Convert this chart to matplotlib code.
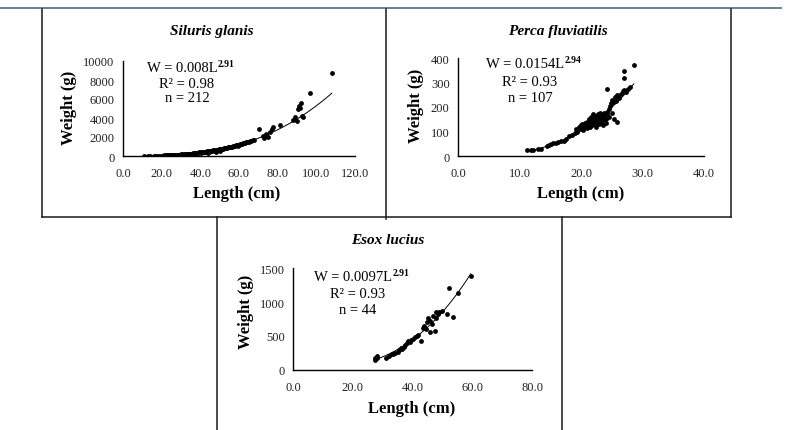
import numpy as np
import matplotlib
matplotlib.use("Agg")
import matplotlib.pyplot as plt
from matplotlib.lines import Line2D

plt.rcParams["font.family"] = ["Liberation Serif", "DejaVu Serif"]

# ---------------- data ----------------
silurus_len = [11, 13, 14, 16, 17, 18, 19, 20, 21, 22, 22.5, 23, 24, 24.5, 25, 26, 26.5, 27, 28, 28.5,
               29, 30, 30.5, 31, 32, 32.5, 33, 33.5, 34, 34.5, 35, 35.5, 36, 36.5, 37, 37.5, 38, 38.5,
               39, 39.5, 40, 40.5, 41, 41.5, 42, 42.5, 43, 43.5, 44, 44, 44.5, 45, 45.5, 46, 46.5, 47,
               47.5, 48, 48, 48.5, 49, 49.5, 50, 50, 50.5, 51, 51.5, 52, 52.5, 53, 53.5, 54, 54.5, 55,
               55.5, 56, 56.5, 57, 57.5, 58, 58.5, 59, 59.5, 60, 60.5, 61, 61.5, 62, 62.5, 63, 63.5,
               64, 65, 65.5, 66, 67, 68, 70.5, 72.5, 73, 74, 75.2, 76, 77, 77.8, 81, 88, 89, 90, 90.5,
               91, 91.5, 92, 92.4, 93, 96.7, 108]
silurus_wt = [10, 15, 20, 25, 30, 40, 45, 50, 60, 70, 65, 80, 90, 85, 100, 110, 95, 130, 140, 120,
              150, 170, 150, 180, 200, 190, 210, 240, 230, 250, 260, 240, 280, 300, 290, 320, 330, 300,
              350, 370, 380, 360, 400, 420, 430, 410, 460, 480, 500, 350, 470, 530, 560, 540, 580, 600,
              570, 640, 450, 660, 620, 700, 720, 500, 690, 760, 740, 790, 820, 800, 860, 880, 900, 940,
              910, 980, 1000, 1050, 1030, 1080, 1120, 1150, 1100, 1200, 1250, 1300, 1260, 1350, 1400,
              1380, 1450, 1500, 1480, 1550, 1600, 1650, 1700, 2800, 2150, 1900, 2300, 1970, 2500,
              2850, 3100, 3250, 3800, 4070, 3700, 4900, 5300, 5100, 5600, 4250, 4100, 6650, 8700]

perca_len = [11.3, 11.8, 12.2, 13, 13.5, 14.5, 14.8, 15.2, 15.5, 16, 16.3, 16.8, 17.2, 17.5, 18, 18.5,
             19, 19.2, 19.4, 19.6, 19.8, 20, 20, 20.2, 20.4, 20.5, 20.6, 20.8, 21, 21, 21.2, 21.3,
             21.4, 21.5, 21.6, 21.7, 21.8, 21.9, 22, 22, 22.1, 22.2, 22.3, 22.4, 22.5, 22.5, 22.6,
             22.7, 22.8, 22.9, 23, 23, 23.1, 23.2, 23.3, 23.4, 23.5, 23.6, 23.7, 23.8, 24, 24, 24.2,
             24.3, 24.5, 24.5, 24.7, 24.8, 25, 25, 25.2, 25.3, 25.5, 25.7, 25.8, 26, 26.2, 26.5, 26.8,
             27, 27, 27, 27.3, 27.6, 28, 28.6, 25.8, 24.2]
perca_wt = [25, 25, 24, 27, 30, 40, 45, 48, 52, 55, 58, 60, 62, 70, 80, 85,
            95, 110, 100, 120, 115, 125, 110, 130, 105, 120, 135, 125, 140, 115, 130, 150,
            120, 145, 135, 160, 125, 150, 140, 170, 130, 155, 145, 165, 120, 150, 135,
            170, 145, 160, 130, 155, 175, 140, 150, 165, 125, 145, 160, 175, 150, 135, 170,
            273, 190, 160, 205, 215, 230, 175, 220, 150, 240, 225, 250, 245, 235, 255, 265,
            270, 318, 346, 260, 275, 280, 373, 140, 180]

esox_len = [27.3, 27.5, 28, 28.2, 31, 32, 33, 33.5, 34, 35, 35.5, 36, 36.5, 37, 37.5, 38, 38.5, 39,
            39.5, 40, 41, 41.5, 42, 43, 43.5, 44, 44.5, 45, 45.2, 45.8, 46, 46.5, 47, 47.5, 47.8, 48,
            48.5, 49, 50, 51.4, 52.3, 53.6, 55.3, 59.5]
esox_wt = [150, 180, 210, 170, 180, 200, 230, 240, 250, 270, 300, 320, 310, 340, 370, 400, 420, 410,
           440, 450, 480, 500, 520, 431, 620, 640, 600, 700, 760, 554, 720, 680, 800, 578, 760, 848,
           820, 860, 870, 823, 1206, 775, 1132, 1378]

W, H = 786, 431
fig = plt.figure(figsize=(W / 100, H / 100), dpi=100)
fig.patch.set_facecolor("white")
fig.canvas.draw()


def fx(x):
    return x / W


def fy(y):
    return 1 - y / H


def panel(rect, L, Wt, a, b, xmax, xstep, ymax, ystep, title, eq, sup, r2, n, pos):
    ax = fig.add_axes(rect)
    ax.scatter(L, Wt, s=12, color="black", linewidths=0, zorder=3)
    xs = np.linspace(min(L), max(L), 200)
    ax.plot(xs, a * xs ** b, color="black", lw=0.7, zorder=2)
    ax.set_xlim(0, xmax)
    ax.set_ylim(0, ymax)
    ax.set_xticks(np.arange(0, xmax + 0.1, xstep))
    ax.set_xticklabels([f"{v:.1f}" for v in np.arange(0, xmax + 0.1, xstep)])
    ax.set_yticks(np.arange(0, ymax + 1, ystep))
    ax.set_yticklabels([f"{int(v)}" for v in np.arange(0, ymax + 1, ystep)])
    for s in ("top", "right"):
        ax.spines[s].set_visible(False)
    for s in ("left", "bottom"):
        ax.spines[s].set_linewidth(1.0)
    ax.tick_params(length=0, labelsize=9, colors="#222222")
    ax.tick_params(axis="x", pad=8)
    ax.tick_params(axis="y", pad=6)
    ax.patch.set_alpha(0)

    tx, ty, yl_x, yl_y, xl_x, xl_y, ex, ey, dy = pos
    fig.text(fx(tx), fy(ty), title, ha="center", va="center", fontsize=11,
             weight="bold", style="italic")
    fig.text(fx(yl_x), fy(yl_y), "Weight (g)", ha="center", va="center", fontsize=12,
             weight="bold", rotation=90)
    fig.text(fx(xl_x), fy(xl_y), "Length (cm)", ha="center", va="center", fontsize=12,
             weight="bold")
    # equation: main part plus a small bold exponent
    main = fig.text(fx(ex - 5), fy(ey), eq, ha="center", va="center", fontsize=10.5)
    ax.annotate(sup, xy=(1, 1), xycoords=main, xytext=(0.5, 1.5), textcoords="offset points",
                ha="left", va="top", fontsize=7, weight="bold", annotation_clip=False)
    fig.text(fx(ex), fy(ey + dy), r2, ha="center", va="center", fontsize=10.5)
    fig.text(fx(ex), fy(ey + 2 * dy), n, ha="center", va="center", fontsize=10.5)


panel([fx(123), fy(157), (355 - 123) / W, (157 - 62) / H], silurus_len, silurus_wt,
      0.008, 2.91, 120, 20, 10000, 2000, "Siluris glanis",
      "W = 0.008L", "2.91", "R² = 0.98", "n = 212",
      (212, 32, 69, 108, 237, 194, 187, 69, 15))
panel([fx(458), fy(157), (704 - 458) / W, (157 - 59) / H], perca_len, perca_wt,
      0.0154, 2.94, 40, 10, 400, 100, "Perca fluviatilis",
      "W = 0.0154L", "2.94", "R² = 0.93", "n = 107",
      (558, 32, 416, 106, 581, 194, 530, 65, 17))
panel([fx(293), fy(371), (532 - 293) / W, (371 - 269) / H], esox_len, esox_wt,
      0.0097, 2.91, 80, 20, 1500, 500, "Esox lucius",
      "W = 0.0097L", "2.91", "R² = 0.93", "n = 44",
      (388, 241, 246, 312, 412, 409, 358, 278, 16.5))

# frame lines around the three charts and the rule at the top
def seg(x0, y0, x1, y1, c="#1a1a1a", lw=1.1):
    fig.add_artist(Line2D([fx(x0), fx(x1)], [fy(y0), fy(y1)], color=c, lw=lw))

seg(0, 9, 781, 9, c="#6d7c8e", lw=1.4)
seg(42, 10, 42, 218)
seg(386, 10, 386, 220)
seg(731, 10, 731, 218)
seg(42, 218, 731, 218)
seg(217, 218, 217, 431)
seg(562, 218, 562, 431)

fig.savefig("out.png", dpi=100, facecolor="white")
